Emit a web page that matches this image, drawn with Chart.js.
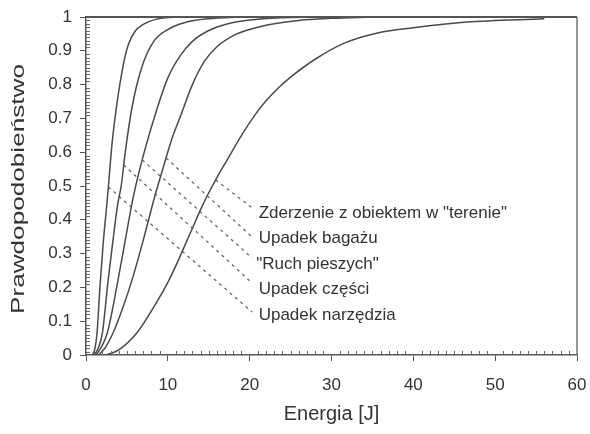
<!DOCTYPE html>
<html>
<head>
<meta charset="utf-8">
<script src="https://cdn.jsdelivr.net/npm/chart.js@4/dist/chart.umd.min.js"></script>
<style>
  html, body { margin: 0; padding: 0; background: #fff; }
  #wrap { width: 590px; height: 434px; }
</style>
</head>
<body>
<div id="wrap"><canvas id="chartCanvas" width="590" height="434"></canvas></div>
<script>
const chartCanvas = document.getElementById('chartCanvas');

// series names, ordered from the steepest curve to the flattest
const seriesNames = ['Upadek narzędzia', 'Upadek części', '"Ruch pieszych"',
  'Upadek bagażu', 'Zderzenie z obiektem w "terenie"'];

// energy [J] / probability pairs
const energyNarzedzia = [0.8, 1.1, 1.35, 1.7, 2.1, 2.6, 3.2, 3.7, 4.2, 4.7, 5.2, 6, 7, 8.5, 11];
const probNarzedzia = [0, 0.02, 0.065, 0.2, 0.33, 0.46, 0.63, 0.73, 0.81, 0.875, 0.92, 0.958, 0.978, 0.993, 1];

const energyCzesci = [1, 1.5, 2, 2.7, 3.3, 3.9, 4.3, 4.8, 5.6, 6.8, 8.2, 10, 12, 15, 19];
const probCzesci = [0, 0.02, 0.065, 0.22, 0.34, 0.45, 0.5, 0.6, 0.73, 0.85, 0.925, 0.963, 0.983, 0.995, 1];

const energyRuch = [1.2, 1.8, 2.6, 3.9, 4.8, 5.8, 7, 8.7, 10, 11.5, 13, 15, 17, 20, 24, 28];
const probRuch = [0, 0.02, 0.065, 0.22, 0.34, 0.47, 0.59, 0.73, 0.82, 0.885, 0.928, 0.96, 0.978, 0.991, 0.998, 1];

const energyBagaz = [1.5, 2.3, 3.3, 4.5, 5.6, 7, 8.3, 9.5, 10.5, 11.6, 13, 14.5, 16, 18, 20, 23, 26, 30, 35];
const probBagaz = [0, 0.02, 0.065, 0.14, 0.22, 0.34, 0.46, 0.56, 0.64, 0.71, 0.8, 0.87, 0.912, 0.945, 0.963, 0.98, 0.99, 0.996, 1];

const energyZderzenie = [2.5, 4, 6.2, 8.8, 10, 11, 12, 13, 14, 15, 16, 17.2, 19, 20.7, 22, 23.5, 25, 28, 31.5, 35.5, 40, 46.5, 56];
const probZderzenie = [0, 0.015, 0.065, 0.163, 0.215, 0.265, 0.32, 0.375, 0.43, 0.48, 0.525, 0.575, 0.65, 0.712, 0.752, 0.79, 0.822, 0.875, 0.922, 0.952, 0.968, 0.985, 0.995];

const energySeries = [energyNarzedzia, energyCzesci, energyRuch, energyBagaz, energyZderzenie];
const probSeries = [probNarzedzia, probCzesci, probRuch, probBagaz, probZderzenie];

// leader lines: probability where each dashed line leaves its curve,
// and the point (in axis units) where it meets the label
const leaderStartProb = [0.497, 0.562, 0.577, 0.583, 0.518];
const leaderEndX = [20.3, 20.3, 20.3, 20.3, 20.3];
const leaderEndY = [0.127, 0.213, 0.287, 0.349, 0.435];
const labelX = [21.1, 21.1, 20.8, 21.1, 21.1];
const labelY = [0.118, 0.195, 0.269, 0.346, 0.42];

const xTicks = [0, 10, 20, 30, 40, 50, 60];
const yTicks = [0, 0.1, 0.2, 0.3, 0.4, 0.5, 0.6, 0.7, 0.8, 0.9, 1];

const FONT = "'Liberation Sans', Arial, sans-serif";
const INK = '#333';

function energyAtProb(xs, ys, p) {
  for (let i = 1; i < ys.length; i++) {
    if (ys[i] >= p) {
      const t = (p - ys[i - 1]) / (ys[i] - ys[i - 1]);
      return xs[i - 1] + t * (xs[i] - xs[i - 1]);
    }
  }
  return xs[xs.length - 1];
}

const curveSets = seriesNames.map((name, i) => ({
  label: name,
  data: energySeries[i].map((x, j) => ({ x, y: probSeries[i][j] })),
  borderColor: '#4a4a4a',
  borderWidth: 1.5,
  pointRadius: 0,
  cubicInterpolationMode: 'monotone',
  fill: false
}));

const leaderSets = seriesNames.map((name, i) => ({
  label: 'leader ' + name,
  data: [
    { x: energyAtProb(energySeries[i], probSeries[i], leaderStartProb[i]), y: leaderStartProb[i] },
    { x: leaderEndX[i], y: leaderEndY[i] }
  ],
  borderColor: '#666',
  borderWidth: 1.3,
  borderDash: [3, 4],
  pointRadius: 0,
  fill: false
}));

const decorPlugin = {
  id: 'decor',
  afterDraw(chart) {
    const { ctx, chartArea: a, scales } = chart;
    ctx.save();
    // frame top and right
    ctx.strokeStyle = '#555';
    ctx.lineWidth = 2;
    ctx.beginPath();
    ctx.moveTo(a.left, a.top);
    ctx.lineTo(a.right, a.top);
    ctx.stroke();
    ctx.lineWidth = 1.2;
    ctx.beginPath();
    ctx.moveTo(a.right, a.top);
    ctx.lineTo(a.right, a.bottom);
    ctx.stroke();

    // minor ticks pointing inward
    ctx.lineWidth = 1;
    ctx.strokeStyle = '#666';
    ctx.beginPath();
    for (let v = 1; v < 60; v++) {
      if (v % 10 === 0) continue;
      const px = Math.round(scales.x.getPixelForValue(v)) + 0.5;
      ctx.moveTo(px, a.bottom);
      ctx.lineTo(px, a.bottom - 4);
    }
    for (let k = 1; k < 100; k++) {
      if (k % 10 === 0) continue;
      const py = Math.round(scales.y.getPixelForValue(k / 100)) + 0.5;
      ctx.moveTo(a.left, py);
      ctx.lineTo(a.left + 4, py);
    }
    ctx.stroke();

    // series labels
    ctx.fillStyle = INK;
    ctx.font = '17px ' + FONT;
    ctx.textAlign = 'left';
    ctx.textBaseline = 'middle';
    seriesNames.forEach((name, i) => {
      ctx.fillText(name, scales.x.getPixelForValue(labelX[i]), scales.y.getPixelForValue(labelY[i]));
    });

    // y axis title (stretched along its length like the original)
    const title = 'Prawdopodobieństwo';
    ctx.font = '19px ' + FONT;
    const w = ctx.measureText(title).width;
    ctx.translate(19, (a.top + a.bottom) / 2 + 3);
    ctx.rotate(-Math.PI / 2);
    ctx.scale(250 / w, 1);
    ctx.textAlign = 'center';
    ctx.fillText(title, 0, 0);
    ctx.restore();
  }
};

new Chart(chartCanvas, {
  type: 'line',
  data: { datasets: [...curveSets, ...leaderSets] },
  options: {
    responsive: false,
    animation: false,
    layout: { padding: { top: 17, right: 13, left: 0, bottom: 0 } },
    plugins: {
      legend: { display: false },
      tooltip: { enabled: false }
    },
    scales: {
      x: {
        type: 'linear',
        min: 0,
        max: 60,
        afterFit: s => { s.height = 79; s.paddingLeft = 0; s.paddingRight = 0; },
        afterBuildTicks: s => { s.ticks = xTicks.map(value => ({ value })); },
        ticks: { color: INK, font: { family: FONT, size: 17 }, padding: 14 },
        grid: { drawOnChartArea: false, tickLength: 6, color: '#555' },
        border: { color: '#555', width: 1.5 },
        title: {
          display: true,
          text: 'Energia [J]',
          color: INK,
          font: { family: FONT, size: 20 },
          padding: { top: 0, bottom: 8 }
        }
      },
      y: {
        min: 0,
        max: 1,
        afterFit: s => { s.width = 86; s.paddingTop = 0; s.paddingBottom = 0; },
        afterBuildTicks: s => { s.ticks = yTicks.map(value => ({ value })); },
        ticks: {
          color: INK,
          font: { family: FONT, size: 17 },
          padding: 8,
          callback: v => String(Math.round(v * 10) / 10)
        },
        grid: { drawOnChartArea: false, tickLength: 6, color: '#555' },
        border: { color: '#555', width: 1.5 }
      }
    }
  },
  plugins: [decorPlugin]
});
</script>
</body>
</html>
